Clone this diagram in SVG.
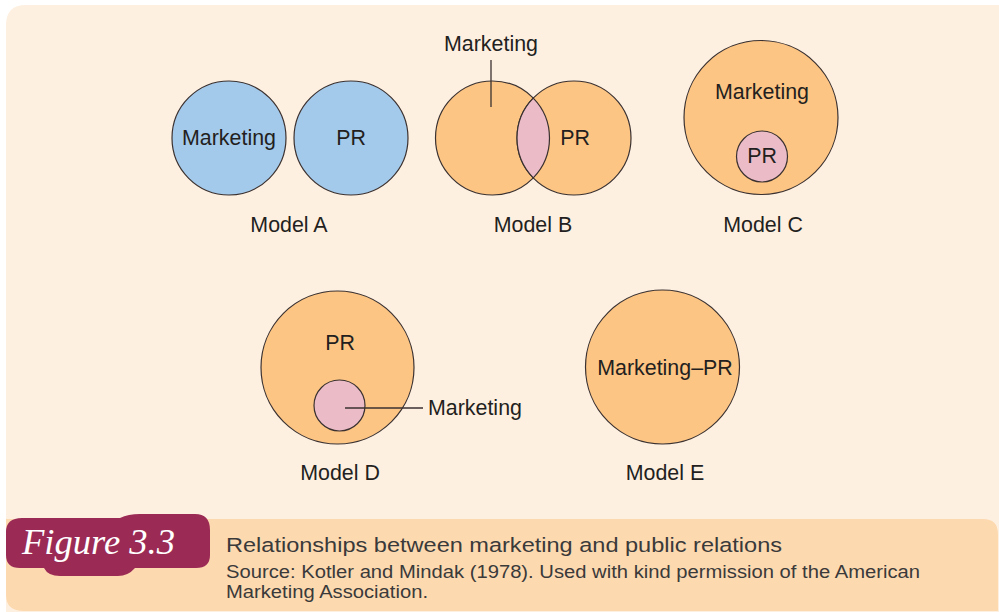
<svg xmlns="http://www.w3.org/2000/svg" width="999" height="612" viewBox="0 0 999 612">
<style>
.c{stroke:#3a3130;stroke-width:1.2}
.blue{fill:#a3c9eb}
.orange{fill:#fdc583}
.pink{fill:#ebbcc8}
.t{font-family:"Liberation Sans",Arial,sans-serif;font-size:21.4px;fill:#231f20;text-anchor:middle}
.cap{font-family:"Liberation Sans",Arial,sans-serif;fill:#3a3a3a}
.ln{stroke:#3a3130;stroke-width:1.3;fill:none}
</style>
<rect x="0" y="0" width="999" height="612" fill="#ffffff"/>
<path d="M26,5 L999,5 L999,612 L6,612 L6,25 Q6,5 26,5 Z" fill="#fef0e1"/>
<path d="M6,519 L983,519 Q998,519 998,534 L998,611 L24,611 Q6,611 6,595 Z" fill="#fdd9b0"/>
<g id="badge">
<path d="M22,518 L120,518 Q128,514 140,514 L195,514 Q210,514 210,530 L210,555 Q210,568 196,568 L135,568 Q128,576 118,576 L60,576 Q48,576 44,568 L20,568 Q6,568 6,555 L6,532 Q6,518 22,518 Z" fill="#9b2a55"/>
<text x="22" y="554" font-family="'Liberation Serif','DejaVu Serif',serif" font-style="italic" font-size="35" fill="#ffffff" textLength="153" lengthAdjust="spacingAndGlyphs">Figure 3.3</text>
</g>
<g id="caption">
<text class="cap" x="226" y="552" font-size="20.5" textLength="556" lengthAdjust="spacingAndGlyphs">Relationships between marketing and public relations</text>
<text class="cap" x="226" y="578" font-size="17.5" textLength="694" lengthAdjust="spacingAndGlyphs">Source: Kotler and Mindak (1978). Used with kind permission of the American</text>
<text class="cap" x="226" y="598" font-size="17.5" textLength="202" lengthAdjust="spacingAndGlyphs">Marketing Association.</text>
</g>
<g id="modelA">
<circle class="c blue" cx="229" cy="138" r="57"/>
<circle class="c blue" cx="351" cy="138" r="57"/>
<text class="t" x="229" y="145">Marketing</text>
<text class="t" x="351" y="145">PR</text>
<text class="t" x="289" y="232">Model A</text>
</g>
<g id="modelB">
<circle class="c orange" cx="492.5" cy="138" r="57"/>
<circle class="c orange" cx="574" cy="138" r="57"/>
<path class="c pink" d="M533.25,98.15 A57,57 0 0 1 533.25,177.85 A57,57 0 0 1 533.25,98.15 Z"/>
<text class="t" x="491" y="51">Marketing</text>
<text class="t" x="575" y="145">PR</text>
<text class="t" x="533" y="232">Model B</text>
</g>
<g id="modelC">
<circle class="c orange" cx="761" cy="117.5" r="77"/>
<circle class="c pink" cx="762" cy="156.5" r="25.5"/>
<text class="t" x="762" y="99">Marketing</text>
<text class="t" x="762" y="163">PR</text>
<text class="t" x="763" y="232">Model C</text>
</g>
<g id="modelD">
<circle class="c orange" cx="337.5" cy="367.5" r="76.5"/>
<circle class="c pink" cx="339.5" cy="405.5" r="25.5"/>
<text class="t" x="340" y="350">PR</text>
<text class="t" x="428" y="415" style="text-anchor:start">Marketing</text>
<text class="t" x="340" y="480">Model D</text>
</g>
<g id="modelE">
<circle class="c orange" cx="662.5" cy="367" r="77"/>
<text class="t" x="665" y="375">Marketing–PR</text>
<text class="t" x="665" y="480">Model E</text>
</g>
<g id="connectors">
<line class="ln" x1="491" y1="60" x2="491" y2="107"/>
<line class="ln" x1="345" y1="408" x2="423" y2="408"/>
</g>
</svg>
